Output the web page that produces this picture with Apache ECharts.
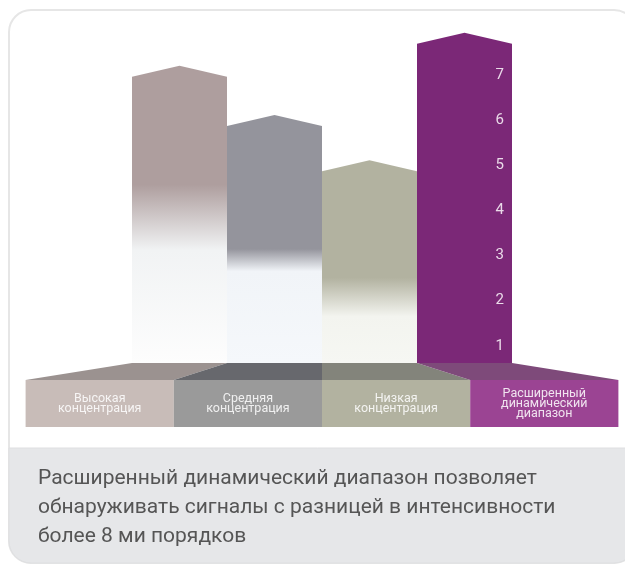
<!DOCTYPE html>
<html>
<head>
<meta charset="utf-8">
<script src="https://cdn.jsdelivr.net/npm/echarts@6/dist/echarts.min.js"></script>
<style>
  html, body { margin: 0; padding: 0; background: #ffffff; }
  #chart { width: 625px; height: 567px; }
</style>
</head>
<body>
<div id="chart"></div>
<script>
// ---- data ----
const categories = ['Высокая\nконцентрация', 'Средняя\nконцентрация', 'Низкая\nконцентрация', 'Расширенный\nдинамический\nдиапазон'];
const values = [6.96, 5.87, 4.87, 7.69];          // orders of magnitude (bar shoulder height)
const tickLabels = [1, 2, 3, 4, 5, 6, 7];
const axisMin = 0.62;
const axisMax = 8.44;
const caption = 'Расширенный динамический диапазон позволяет\nобнаруживать сигналы с разницей в интенсивности\nболее 8 ми порядков';

// ---- styles ----
const barColor = ['#ae9e9e', '#94949c', '#b2b2a0', '#7b2877'];
const fadeColor = [['#f1f3f4', '#fdfdfd'], ['#f1f4f8', '#f5f8fb'], ['#f3f4ef', '#f6f7f3'], null];
const fadeRange = [[0.40, 0.62], [0.54, 0.63], [0.58, 0.77], null];
const trapColor = ['#9b9290', '#67686d', '#83847b', '#7e4a7a'];
const boxColor = ['#c8bcb8', '#9a9a9a', '#b2b2a0', '#9b4493'];
const ROOF = 11, TRAP = 17, BOX = 47, SPREAD = 1.56;

function fill(i) {
  if (!fadeColor[i]) return barColor[i];
  const [s, e] = fadeRange[i];
  return {
    type: 'linear', x: 0, y: 0, x2: 0, y2: 1,
    colorStops: [
      { offset: 0, color: barColor[i] },
      { offset: s, color: barColor[i] },
      { offset: e, color: fadeColor[i][0] },
      { offset: 1, color: fadeColor[i][1] }
    ]
  };
}

const chart = echarts.init(document.getElementById('chart'), null, { renderer: 'canvas' });

chart.setOption({
  animation: false,
  backgroundColor: '#ffffff',
  grid: { left: 132, right: 113, top: 10, bottom: 204 },
  xAxis: { type: 'category', data: categories, show: false },
  yAxis: {
    type: 'value', min: axisMin, max: axisMax, position: 'right', z: 10,
    axisLine: { show: false }, axisTick: { show: false }, splitLine: { show: false },
    axisLabel: {
      inside: true, customValues: tickLabels, margin: 8,
      color: '#eadbe9', fontSize: 15, fontFamily: 'Roboto'
    }
  },
  graphic: [
    { type: 'rect', z: 0, shape: { x: 9, y: 10, width: 627, height: 553, r: 22 },
      style: { fill: '#ffffff', stroke: '#e6e6e6', lineWidth: 2 } },
    { type: 'rect', z: 0, shape: { x: 9, y: 448, width: 627, height: 115, r: [0, 0, 22, 22] },
      style: { fill: '#e6e7e9', stroke: '#dedfe1', lineWidth: 1 } },
    { type: 'text', z: 1, x: 38, y: 464,
      style: { text: caption, font: '21px Roboto', fill: '#555555', lineHeight: 29 } }
  ],
  series: [{
    type: 'custom',
    data: values.map((v, i) => [i, v]),
    renderItem: function (params, api) {
      const i = api.value(0);
      const top = api.coord([i, api.value(1)]);
      const base = api.coord([i, axisMin])[1];
      const w = api.size([1, 0])[0];
      const cs = params.coordSys;
      const cx = cs.x + cs.width / 2;
      const x0 = top[0] - w / 2, x1 = top[0] + w / 2;
      const X0 = cx + (x0 - cx) * SPREAD, X1 = cx + (x1 - cx) * SPREAD;
      return {
        type: 'group',
        children: [
          { type: 'polygon',
            shape: { points: [[x0, base], [x0, top[1]], [top[0], top[1] - ROOF], [x1, top[1]], [x1, base]] },
            style: { fill: fill(i) } },
          { type: 'polygon',
            shape: { points: [[x0, base], [x1, base], [X1, base + TRAP], [X0, base + TRAP]] },
            style: { fill: trapColor[i] } },
          { type: 'rect',
            shape: { x: X0, y: base + TRAP, width: X1 - X0, height: BOX },
            style: { fill: boxColor[i] } },
          { type: 'text',
            style: {
              text: categories[i], x: (X0 + X1) / 2, y: base + TRAP + BOX / 2,
              align: 'center', verticalAlign: 'middle',
              fill: 'rgba(255,255,255,0.85)', font: '12.5px Roboto', lineHeight: 10
            } }
        ]
      };
    }
  }]
});
</script>
</body>
</html>
